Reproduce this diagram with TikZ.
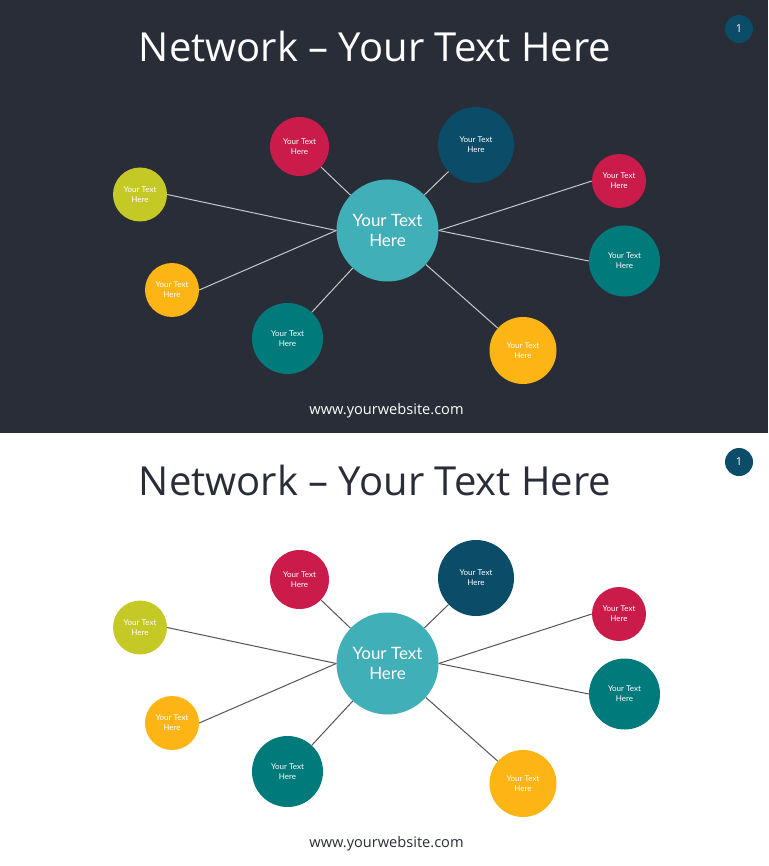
\documentclass[tikz,border=0pt]{standalone}
\usepackage{fontspec}
\setmainfont{Open Sans}
\newfontfamily\nodefont{Lato}
\definecolor{darkbg}{HTML}{282D38}
\definecolor{ccenter}{HTML}{41AFB7}
\definecolor{cred}{HTML}{CB1B4B}
\definecolor{cblue}{HTML}{0B4D68}
\definecolor{clime}{HTML}{C4C925}
\definecolor{corange}{HTML}{FDB516}
\definecolor{cteal}{HTML}{017A7B}
\definecolor{linelight}{HTML}{C8C8C8}
\definecolor{linedark}{HTML}{555555}
\newcommand{\netslide}[4]{%
  % #1 prefix, #2 shift, #3 title colour, #4 line colour
  \begin{scope}[shift={(0,#2)}]
    \node[titletext,text=#3] (#1title) at (375,47) {Network -- Your Text Here};
    \node[badge] (#1badge) at (739,29) {1};
    \node[webtext,text=#3] (#1web) at (386.5,411) {www.yourwebsite.com};
    \node[bub,fill=ccenter,minimum size=102pt,font=\nodefont\fontsize{17}{20}\selectfont] (#1c) at (387.5,230.5) {\raisebox{-1.5pt}{\parbox{80pt}{\centering Your Text\\Here}}};
    \node[bub,fill=cred,minimum size=59pt] (#1a) at (299.5,146.5) {Your Text\\Here};
    \node[bub,fill=cblue,minimum size=76pt] (#1b) at (476,145) {Your Text\\Here};
    \node[bub,fill=clime,minimum size=54pt] (#1d) at (140,194.5) {Your Text\\Here};
    \node[bub,fill=cred,minimum size=54pt] (#1e) at (619,181) {Your Text\\Here};
    \node[bub,fill=corange,minimum size=54pt] (#1f) at (172,290) {Your Text\\Here};
    \node[bub,fill=cteal,minimum size=71pt] (#1g) at (624.5,261) {Your Text\\Here};
    \node[bub,fill=cteal,minimum size=71pt] (#1h) at (287.5,338.5) {Your Text\\Here};
    \node[bub,fill=corange,minimum size=67pt] (#1i) at (523,350.5) {Your Text\\Here};
    \draw[link,draw=#4] (#1c) -- (#1a);
    \draw[link,draw=#4] (#1c) -- (#1b);
    \draw[link,draw=#4] (#1c) -- (#1h);
    \draw[link,draw=#4] (#1c) -- (#1i);
    \draw[link,draw=#4] (#1c.west) -- (#1d.east);
    \draw[link,draw=#4] (#1c.west) -- (#1f.east);
    \draw[link,draw=#4] (#1c.east) -- (#1e.west);
    \draw[link,draw=#4] (#1c.east) -- (#1g.west);
  \end{scope}}
\begin{document}
\begin{tikzpicture}[x=1pt,y=-1pt,
  bub/.style={circle,inner sep=0pt,align=center,text=white,font=\nodefont\fontsize{8}{10}\selectfont},
  titletext/.style={inner sep=0pt,font=\fontsize{40}{46}\selectfont},
  webtext/.style={inner sep=0pt,font=\fontsize{14.6}{17}\selectfont},
  badge/.style={circle,fill=cblue,minimum size=28pt,inner sep=0pt,text=white,font=\fontsize{11}{12}\selectfont},
  link/.style={line width=1pt}]
  \useasboundingbox (0,0) rectangle (768,866);
  \fill[darkbg] (0,0) rectangle (768,433);
  \fill[white] (0,433) rectangle (768,866);
  \netslide{t}{0}{white}{linelight}
  \netslide{u}{433}{darkbg}{linedark}
\end{tikzpicture}
\end{document}
